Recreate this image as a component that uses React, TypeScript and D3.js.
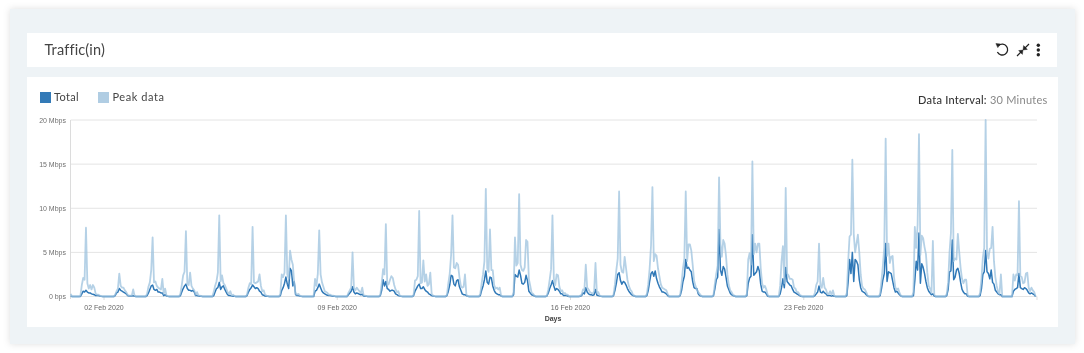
import React from "react";
import * as d3 from "d3";

const title = "Traffic(in)";
const seriesNames = ["Total", "Peak data"];
const yTickValues = [0, 5, 10, 15, 20];
const yTickLabels = ["0 bps", "5 Mbps", "10 Mbps", "15 Mbps", "20 Mbps"];
const xTickDays = [2, 9, 16, 23];
const xTickLabels = ["02 Feb 2020", "09 Feb 2020", "16 Feb 2020", "23 Feb 2020"];

// Hourly readings (Mbps) for hours 07:00 to 22:00 of each day, 1 Feb to 29 Feb 2020.
const peakByDay: number[][] = [
  [0.1,1.3,2.1,1.9,7.8,1.5,0.9,1.3,0.8,1.3,1.0,0.3,0.2,0.2,0.1,0.05],
  [0,0.2,0.6,0.9,2.6,1.2,1.0,1.0,0.7,0.5,0.2,0.1,0.1,0.1,0.8,0.1],
  [0.3,1.1,1.6,3.0,6.7,1.6,1.7,1.2,1.0,0.9,0.8,2.0,0.3,0.9,0.1,0.05],
  [0.3,1.3,2.4,2.8,7.4,1.4,1.3,2.7,1.2,0.9,0.7,0.2,0.5,0.1,0.1,0.05],
  [0.5,1.2,1.7,2.7,9.2,1.7,2.4,1.5,1.3,0.9,0.5,0.3,0.6,0.1,0.2,0.05],
  [0.2,1.0,1.5,1.4,7.9,1.6,1.5,1.6,1.7,2.5,1.2,0.6,0.7,0.2,0.1,0.05],
  [0.3,2.5,2.2,2.7,9.2,2.5,2.0,5.2,4.2,3.6,1.5,0.3,0.2,0.3,0.1,0.05],
  [0.1,2.0,1.2,2.6,7.5,2.5,1.6,1.1,0.6,0.5,0.4,0.2,0.2,0.1,0.1,0.05],
  [0,0.4,0.7,1.0,5.0,1.0,0.7,1.0,0.8,0.6,0.4,1.0,0.1,0.1,0.05,0.02],
  [0.2,1.5,3.1,2.5,8.2,1.3,1.4,1.9,2.3,2.1,1.3,0.8,0.5,0.6,0.1,0.05],
  [0.2,1.8,1.9,2.3,9.7,1.5,1.6,4.1,1.7,2.5,1.2,1.4,2.7,0.3,0.1,0.05],
  [0.2,1.5,2.6,4.7,9.2,3.3,3.2,3.8,3.6,2.2,1.2,1.0,1.1,2.5,0.2,0.05],
  [0.3,1.5,2.5,4.0,12.2,3.2,2.8,7.6,3.0,3.0,1.3,0.9,1.0,0.8,1.0,0.1],
  [0.5,6.7,3.5,3.8,11.6,3.6,3.0,2.9,3.3,6.4,6.2,2.0,1.2,0.4,0.3,0.1],
  [0.1,0.8,1.9,3.1,9.2,2.0,1.3,2.5,2.4,1.1,0.6,0.7,0.3,0.4,0.2,0.2],
  [0.1,0.2,0.8,0.7,3.6,1.0,0.8,0.5,0.4,0.3,0.6,3.8,0.4,0.5,0.1,0.05],
  [0.2,1.4,3.0,4.3,11.9,3.6,2.8,2.7,4.5,3.2,1.9,1.2,0.8,0.6,0.2,0.1],
  [0.3,1.4,3.2,5.8,12.4,4.0,4.8,4.6,3.2,2.3,1.4,1.0,0.9,0.8,0.7,0.3],
  [0.2,1.5,3.2,4.3,11.9,4.0,5.9,5.9,5.2,3.6,1.8,1.2,0.8,0.5,0.3,0.1],
  [0.2,1.5,2.6,3.5,13.5,6.0,4.5,6.4,6.0,4.6,2.5,1.3,0.7,0.5,0.2,0.1],
  [0.3,4.2,4.9,3.6,15.3,4.8,6.0,5.0,6.0,6.0,3.2,1.5,1.0,1.2,0.8,0.2],
  [1.2,4.0,5.7,1.5,12.3,2.6,2.4,2.0,2.0,1.9,1.0,0.9,0.5,0.5,0.2,0.1],
  [0,0.4,1.3,1.7,6.0,1.2,1.0,2.1,1.0,0.8,0.3,0.3,0.6,0.2,0.7,0.1],
  [0.4,4.0,6.8,7.0,15.5,7.1,5.0,6.0,7.0,5.0,2.5,1.2,0.9,0.8,0.5,0.1],
  [0.3,1.8,3.5,5.6,17.9,4.6,6.0,3.8,4.5,4.6,2.2,1.0,0.8,0.9,0.4,0.1],
  [0.5,7.9,5.5,8.1,18.4,4.7,6.9,6.6,5.6,4.8,2.7,1.2,0.9,0.4,6.3,0.2],
  [0.3,1.6,5.0,7.2,16.6,4.0,4.3,4.2,7.1,5.0,3.2,2.0,1.5,1.9,1.9,0.2],
  [0.4,2.0,4.4,5.5,20,5.2,4.3,5.4,5.5,7.9,4.0,2.2,1.2,0.5,0.3,2.5],
  [2.5,1.8,2.5,2.4,10.8,2.3,2.2,1.5,1.6,2.6,2.7,1.0,0.6,1.0,0.7,0.5],
];

const totalByDay: number[][] = [
  [0,0.3,0.6,0.5,0.7,0.5,0.4,0.4,0.3,0.25,0.2,0.1,0.1,0.1,0.05,0.02],
  [0,0.1,0.4,0.5,0.9,0.7,0.6,0.5,0.4,0.3,0.1,0.05,0.05,0.05,0.1,0.02],
  [0.1,0.4,0.8,1.2,1.3,0.8,0.7,0.8,0.5,0.5,0.4,0.4,0.1,0.2,0.05,0.02],
  [0.1,0.5,0.9,1.2,1.4,0.9,0.7,0.7,0.6,0.7,0.5,0.1,0.1,0.05,0.03,0.02],
  [0.1,0.5,0.9,1.0,1.6,0.8,1.1,1.2,0.8,0.5,0.2,0.1,0.1,0.05,0.03,0.02],
  [0.1,0.5,0.8,1.0,1.3,1.1,0.9,1.0,0.9,0.6,0.5,0.2,0.15,0.05,0.03,0.02],
  [0.1,0.7,1.0,1.5,2.2,1.4,0.9,3.2,2.9,1.2,1.7,0.2,0.1,0.1,0.05,0.02],
  [0,0.6,0.7,1.0,1.4,1.0,0.6,0.4,0.3,0.2,0.15,0.1,0.1,0.05,0.03,0.02],
  [0,0.2,0.4,0.6,1.1,0.5,0.3,0.4,0.35,0.25,0.2,0.25,0.05,0.03,0.02,0.01],
  [0.1,0.7,1.9,1.2,1.7,0.9,0.8,0.6,0.7,0.7,0.6,0.3,0.2,0.1,0.05,0.02],
  [0.1,0.6,0.9,1.2,1.4,0.9,0.9,1.1,0.8,0.6,0.5,0.3,0.2,0.1,0.05,0.02],
  [0.1,0.6,1.3,2.4,2.3,1.4,1.2,1.8,1.9,1.1,0.7,0.3,0.2,0.2,0.1,0.02],
  [0.1,0.7,1.2,1.9,2.9,1.6,1.4,2.2,2.1,1.2,0.7,0.4,0.3,0.2,0.2,0.05],
  [0.2,2.5,2.3,2.2,3.0,2.4,1.5,1.4,1.6,2.4,1.8,0.6,0.4,0.2,0.15,0.05],
  [0.05,0.4,0.9,1.3,1.8,1.2,0.7,0.9,0.8,0.6,0.3,0.3,0.1,0.1,0.1,0.05],
  [0.02,0.1,0.4,0.3,1.0,0.5,0.3,0.2,0.2,0.15,0.2,0.8,0.15,0.1,0.05,0.02],
  [0.1,0.7,1.5,2.5,2.7,1.8,1.4,1.7,1.6,1.3,0.9,0.6,0.4,0.2,0.1,0.05],
  [0.1,0.7,1.7,2.6,2.8,2.3,2.9,2.0,1.5,1.1,0.8,0.5,0.5,0.4,0.3,0.1],
  [0.1,0.7,1.7,2.3,4.2,3.2,3.3,3.0,2.8,1.7,1.0,0.9,0.9,0.3,0.1,0.05],
  [0.1,0.9,1.9,2.2,7.6,3.0,2.4,3.4,3.1,2.2,1.2,0.8,0.4,0.2,0.1,0.05],
  [0.1,1.5,2.1,2.3,7.0,2.4,2.6,2.8,3.4,2.9,1.4,0.6,0.5,0.5,0.3,0.05],
  [0.3,1.0,2.0,1.0,3.3,1.7,1.5,1.3,1.2,0.8,0.5,0.4,0.3,0.2,0.1,0.03],
  [0,0.1,0.3,0.5,1.2,0.5,0.4,0.6,0.4,0.3,0.1,0.1,0.1,0.05,0.1,0.02],
  [0.1,1.7,4.2,2.6,5.0,1.7,4.2,4.0,3.6,1.9,1.0,0.6,0.5,0.4,0.2,0.05],
  [0.1,0.9,1.9,2.6,6.0,1.7,2.8,2.7,2.6,1.8,1.0,0.5,0.6,0.4,0.2,0.05],
  [0.1,1.8,4.0,3.0,7.2,1.5,3.7,3.3,2.6,1.7,1.0,0.6,0.4,0.2,0.3,0.05],
  [0.1,0.8,2.8,2.9,6.4,1.9,2.2,3.0,3.2,2.6,1.6,0.8,0.5,0.3,0.3,0.05],
  [0.1,0.9,2.5,2.8,5.2,2.8,2.6,2.0,3.0,1.6,1.4,0.7,0.5,0.3,0.2,0.2],
  [0.6,0.8,0.9,1.0,2.6,1.0,0.9,0.8,1.0,0.9,0.7,0.4,0.3,0.4,0.3,0.2],
];

const firstHour = 7;
const startValues = { peak: 0.3, total: 0.05 };

type Pt = { t: Date; v: number };

function toPoints(rows: number[][], start: number): Pt[] {
  const pts: Pt[] = [{ t: new Date(2020, 1, 1, 0), v: start }, { t: new Date(2020, 1, 1, 1), v: 0 }];
  rows.forEach((row, d) => {
    pts.push({ t: new Date(2020, 1, 1 + d, firstHour - 1), v: 0 });
    row.forEach((v, i) => pts.push({ t: new Date(2020, 1, 1 + d, firstHour + i), v }));
    pts.push({ t: new Date(2020, 1, 1 + d, firstHour + row.length), v: 0 });
  });
  return pts;
}

const PAGE = "#eef3f6";
const FONT = "Lato, sans-serif";
const AXIS_FONT = "'Liberation Sans', Arial, sans-serif";

export default function App() {
  const x = d3.scaleTime().domain([new Date(2020, 1, 1), new Date(2020, 2, 1)]).range([70.7, 1037]);
  const y = d3.scaleLinear().domain([0, 20]).range([296.5, 120]);
  const line = d3.line<Pt>().x((p) => x(p.t)).y((p) => y(p.v));
  const peak = line(toPoints(peakByDay, startValues.peak)) as string;
  const total = line(toPoints(totalByDay, startValues.total)) as string;

  return (
    <svg
      width={1084}
      height={353}
      viewBox="0 0 1084 353"
      style={{ position: "absolute", left: 0, top: 0, display: "block", filter: "blur(0.4px)" }}
    >
      <defs>
        <filter id="cardShadow" x="-3%" y="-8%" width="106%" height="116%">
          <feDropShadow dx="0" dy="0" stdDeviation="3.5" floodColor="#000" floodOpacity="0.13" />
        </filter>
      </defs>
      <rect width={1084} height={353} fill="#fff" />
      <rect x={10} y={9} width={1065} height={335} fill={PAGE} filter="url(#cardShadow)" />
      <rect x={27} y={33} width={1030} height={34} fill="#fff" />
      <rect x={27} y={77} width={1031} height={250} fill="#fff" />

      <text x={44.5} y={54.5} fontFamily={FONT} fontSize={14.5} fill="#444" letterSpacing={0.15}>{title}</text>

      {/* header icons */}
      <g fill="none" stroke="#222">
        <path d="M 998.6 45.6 A 5.4 5.4 0 1 1 997.4 52" strokeWidth={1.3} />
        <path d="M 995.9 43.6 L 1000.4 44 L 997.8 47.6 Z" fill="#222" strokeWidth={0.5} />
        <path d="M 1017 56 L 1021.5 51.5 M 1024.5 48.5 L 1029 44" strokeWidth={1.2} />
        <path d="M 1023 50 L 1018.6 50.6 L 1022.4 54.4 Z M 1023 50 L 1027.4 49.4 L 1023.6 45.6 Z" fill="#222" strokeWidth={0.4} />
      </g>
      <g fill="#222">
        <circle cx={1038.3} cy={45.3} r={1.7} />
        <circle cx={1038.3} cy={50} r={1.7} />
        <circle cx={1038.3} cy={54.7} r={1.7} />
      </g>

      {/* legend */}
      <rect x={40} y={92} width={11} height={11} fill="#337ab7" />
      <text x={54} y={101} fontFamily={FONT} fontSize={11} fill="#444" letterSpacing={0.3}>{seriesNames[0]}</text>
      <rect x={98} y={92} width={11} height={11} fill="#b0cde3" />
      <text x={112.5} y={101} fontFamily={FONT} fontSize={11} fill="#444" letterSpacing={0.55}>{seriesNames[1]}</text>

      <text x={1047.5} y={103.5} textAnchor="end" fontFamily={FONT} fontSize={11} letterSpacing={0.25}>
        <tspan fill="#333" fontWeight={500}>Data Interval: </tspan>
        <tspan fill="#888">30 Minutes</tspan>
      </text>

      {/* axes */}
      {yTickValues.map((v, i) => (
        <g key={v}>
          <line x1={70.7} x2={1037} y1={y(v)} y2={y(v)} stroke="#e4e4e4" strokeWidth={1} />
          <text x={66} y={y(v) + 2.5} textAnchor="end" fontFamily={AXIS_FONT} fontSize={7} fill="#707070">
            {yTickLabels[i]}
          </text>
        </g>
      ))}
      <line x1={70.5} x2={70.5} y1={120} y2={299} stroke="#dcdcdc" />
      {xTickDays.map((d, i) => {
        const tx = x(new Date(2020, 1, d));
        return (
          <g key={d}>
            <line x1={tx} x2={tx} y1={296.5} y2={300} stroke="#d0d0d0" strokeWidth={0.7} />
            <text x={tx} y={309.5} textAnchor="middle" fontFamily={AXIS_FONT} fontSize={7} fill="#666">
              {xTickLabels[i]}
            </text>
          </g>
        );
      })}
      <line x1={1037} x2={1037} y1={296.5} y2={300} stroke="#d0d0d0" strokeWidth={0.7} />
      <text x={553} y={321} textAnchor="middle" fontFamily={AXIS_FONT} fontSize={7} fontWeight={700} fill="#444">
        Days
      </text>

      {/* series: the pale peak line lies over the total line */}
      <path d={total} fill="none" stroke="#2f78b7" strokeWidth={1.5} strokeLinejoin="round" />
      <path d={peak} fill="none" stroke="#9cc2de" strokeOpacity={0.75} strokeWidth={1.8} strokeLinejoin="round" />
    </svg>
  );
}
